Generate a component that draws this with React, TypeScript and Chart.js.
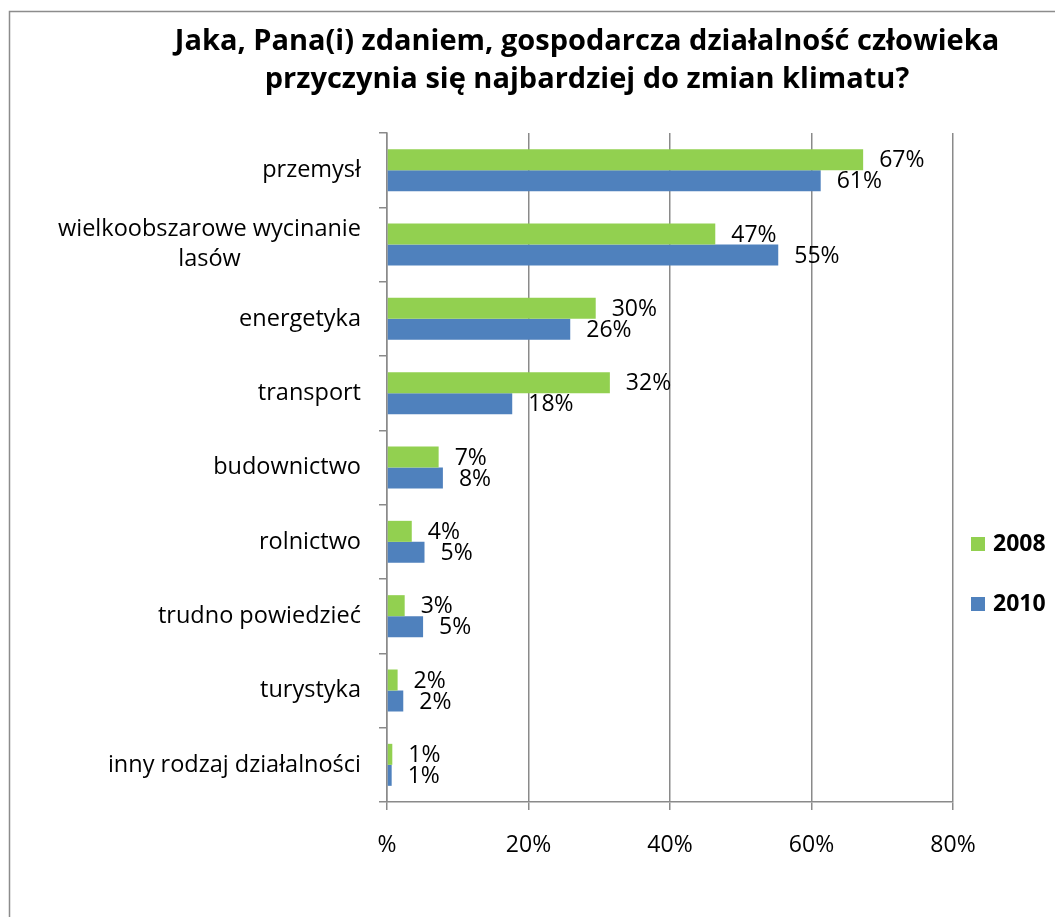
import React, { useEffect, useRef } from "react";
import { Chart, registerables } from "chart.js";

Chart.register(...registerables);

const titleLines = [
  "Jaka, Pana(i) zdaniem, gospodarcza działalność człowieka",
  "przyczynia się najbardziej do zmian klimatu?",
];
const categories = [
  ["przemysł"],
  ["wielkoobszarowe wycinanie", "lasów"],
  ["energetyka"],
  ["transport"],
  ["budownictwo"],
  ["rolnictwo"],
  ["trudno powiedzieć"],
  ["turystyka"],
  ["inny rodzaj działalności"],
];
const seriesNames = ["2008", "2010"];
const values2008 = [67.3, 46.4, 29.5, 31.5, 7.3, 3.5, 2.5, 1.5, 0.75];
const values2010 = [61.3, 55.3, 25.9, 17.7, 7.9, 5.3, 5.1, 2.3, 0.66];
const labels2008 = ["67%", "47%", "30%", "32%", "7%", "4%", "3%", "2%", "1%"];
const labels2010 = ["61%", "55%", "26%", "18%", "8%", "5%", "5%", "2%", "1%"];
const xTickValues = [0, 20, 40, 60, 80];
const xTickLabels = ["%", "20%", "40%", "60%", "80%"];

const GREEN = "#92D050";
const BLUE = "#4F81BD";
const GRID = "#8a8a8a";
const FONT = "'Open Sans', 'Liberation Sans', sans-serif";

export default function App() {
  const ref = useRef<HTMLCanvasElement>(null);

  useEffect(() => {
    const canvas = ref.current;
    if (!canvas) return;
    const valueLabels = [labels2008, labels2010];

    const decor = {
      id: "decor",
      beforeDraw(chart: any) {
        const ctx = chart.ctx;
        ctx.save();
        ctx.fillStyle = "#ffffff";
        ctx.fillRect(0, 0, chart.width, chart.height);
        ctx.strokeStyle = "#8c8c8c";
        ctx.lineWidth = 1.5;
        ctx.beginPath();
        ctx.moveTo(9.5, chart.height);
        ctx.lineTo(9.5, 11.5);
        ctx.lineTo(chart.width, 11.5);
        ctx.stroke();
        ctx.restore();
      },
      afterDraw(chart: any) {
        const ctx = chart.ctx;
        ctx.save();
        // title
        ctx.fillStyle = "#000";
        ctx.font = `bold 29px ${FONT}`;
        ctx.textAlign = "center";
        ctx.textBaseline = "middle";
        ctx.fillText(titleLines[0], 587, 42);
        ctx.fillText(titleLines[1], 587, 80);

        // category labels
        const yScale = chart.scales.y;
        ctx.font = `23.5px ${FONT}`;
        categories.forEach((lines, i) => {
          const cy = yScale.getPixelForTick(i);
          const lh = 30;
          const w = Math.max(...lines.map((l) => ctx.measureText(l).width));
          const right = 361;
          const startY = cy - ((lines.length - 1) * lh) / 2;
          lines.forEach((l, j) => {
            if (lines.length > 1) {
              ctx.textAlign = "center";
              ctx.fillText(l, right - w / 2, startY + j * lh);
            } else {
              ctx.textAlign = "right";
              ctx.fillText(l, right, startY + j * lh);
            }
          });
        });

        // value labels
        ctx.textAlign = "left";
        ctx.font = `23px ${FONT}`;
        chart.data.datasets.forEach((ds: any, di: number) => {
          const meta = chart.getDatasetMeta(di);
          meta.data.forEach((bar: any, i: number) => {
            ctx.fillText(valueLabels[di][i], bar.x + 16, bar.y + 1);
          });
        });

        // legend
        const legendColors = [GREEN, BLUE];
        const legendY = [544, 604];
        ctx.font = `bold 23px ${FONT}`;
        seriesNames.forEach((n, i) => {
          ctx.fillStyle = legendColors[i];
          ctx.fillRect(971, legendY[i] - 7, 14, 14);
          ctx.fillStyle = "#000";
          ctx.fillText(n, 993, legendY[i]);
        });
        ctx.restore();
      },
    };

    const chart = new Chart(canvas, {
      type: "bar",
      data: {
        labels: categories.map((c) => c.join(" ")),
        datasets: [
          {
            label: seriesNames[0],
            data: values2008,
            backgroundColor: GREEN,
            barPercentage: 1,
            categoryPercentage: 0.565,
          },
          {
            label: seriesNames[1],
            data: values2010,
            backgroundColor: BLUE,
            barPercentage: 1,
            categoryPercentage: 0.565,
          },
        ],
      },
      options: {
        indexAxis: "y",
        responsive: false,
        animation: false,
        events: [],
        layout: { padding: { top: 133, right: 102, left: 0, bottom: 0 } },
        plugins: {
          legend: { display: false },
          title: { display: false },
          tooltip: { enabled: false },
        },
        scales: {
          x: {
            min: 0,
            max: 80,
            afterFit: (s: any) => {
              s.height = 115;
            },
            afterBuildTicks: (s: any) => {
              s.ticks = xTickValues.map((v) => ({ value: v }));
            },
            ticks: {
              color: "#000",
              font: { family: FONT, size: 23 },
              padding: 22,
              callback: (_v: any, i: number) => xTickLabels[i],
            },
            grid: {
              color: GRID,
              lineWidth: 1.5,
              tickLength: 8,
              drawOnChartArea: true,
            },
            border: { display: true, color: GRID, width: 1.5 },
          },
          y: {
            afterFit: (s: any) => {
              s.width = 387;
            },
            ticks: { display: false },
            grid: {
              color: GRID,
              lineWidth: 1.5,
              tickLength: 8,
              drawOnChartArea: false,
              offset: true,
            },
            border: { display: true, color: GRID, width: 1.5 },
          },
        },
      },
      plugins: [decor],
    });
    return () => chart.destroy();
  }, []);

  return (
    <div style={{ position: "fixed", left: 0, top: 0, width: 1055, height: 917, background: "#fff" }}>
      <canvas ref={ref} width={1055} height={917} style={{ display: "block" }} />
    </div>
  );
}
